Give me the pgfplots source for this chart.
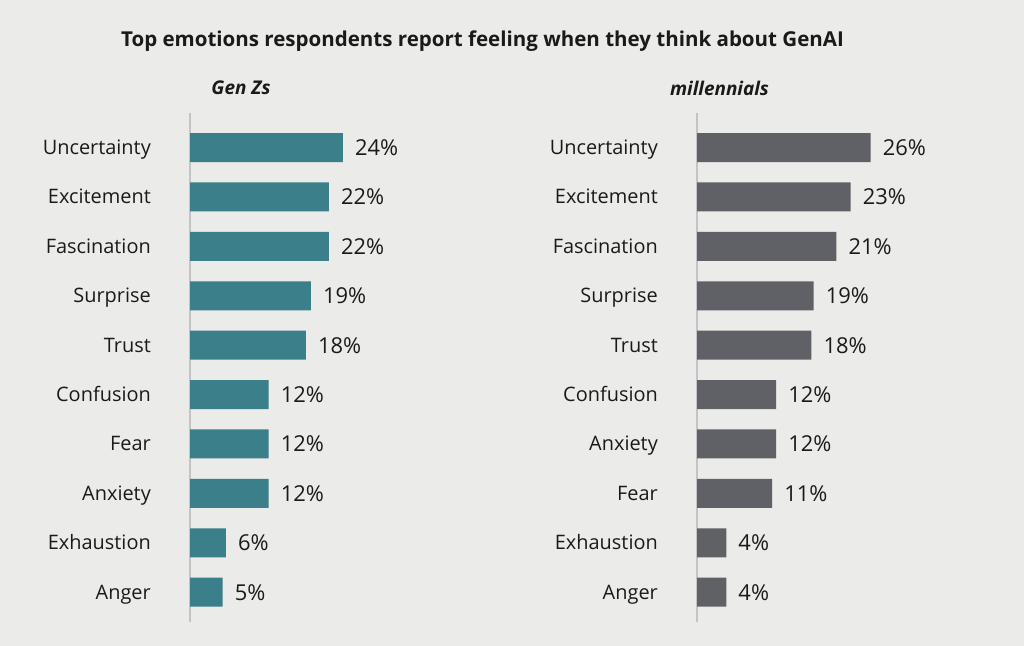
\documentclass[border=0pt]{standalone}
\usepackage{fontspec}
\setmainfont{Open Sans}
\usepackage{pgfplots}
\pgfplotsset{compat=1.18}
\definecolor{bg}{HTML}{EBEBE9}
\definecolor{teal1}{HTML}{3A7F8A}
\definecolor{gray1}{HTML}{5F6166}
\definecolor{axgray}{HTML}{C4C4C4}
\definecolor{txt}{HTML}{1A1A1A}
\pgfplotsset{
  panel/.style={
    y=49.4bp, y dir=reverse,
    xmin=0, xmax=30, ymin=-0.7, ymax=9.6,
    xbar, bar width=29bp, bar shift=0pt,
    axis x line=none, axis y line*=left,
    y axis line style={axgray, line width=2.5bp},
    ytick={0,...,9}, major tick length=0pt,
    yticklabel style={font=\fontsize{20}{24}\selectfont, text=txt, anchor=base east, inner sep=0pt, xshift=-39bp, yshift=-7bp},
    point meta=explicit,
    nodes near coords={\pgfmathprintnumber{\pgfplotspointmeta}\%},
    nodes near coords style={anchor=base west, inner sep=0pt, xshift=12bp, yshift=-8bp, font=\fontsize{22}{26}\selectfont, text=txt},
    /pgf/number format/assume math mode=true,
    clip=false,
  }
}
\begin{document}
\begin{tikzpicture}
\fill[bg] (0,0) rectangle (1024bp,646bp);
\useasboundingbox (0,0) rectangle (1024bp,646bp);
\node[font=\bfseries\fontsize{20.6}{24}\selectfont, text=txt] at (482.5bp,605bp) {Top emotions respondents report feeling when they think about GenAI};
\node[font=\bfseries\itshape\fontsize{19}{23}\selectfont, text=txt] at (241bp,558bp) {Gen Zs};
\node[font=\bfseries\itshape\fontsize{19}{23}\selectfont, text=txt] at (719.5bp,558bp) {millennials};
\begin{axis}[panel, x=6.4bp, at={(190bp,533bp)}, anchor=north west,
  yticklabels={Uncertainty,Excitement,Fascination,Surprise,Trust,Confusion,Fear,Anxiety,Exhaustion,Anger}]
\addplot[fill=teal1, draw=none] coordinates {(23.9,0) [24] (21.7,1) [22] (21.7,2) [22] (18.9,3) [19] (18.1,4) [18] (12.3,5) [12] (12.3,6) [12] (12.3,7) [12] (5.6,8) [6] (5.1,9) [5]};
\end{axis}
\begin{axis}[panel, x=6.65bp, at={(697bp,533bp)}, anchor=north west,
  yticklabels={Uncertainty,Excitement,Fascination,Surprise,Trust,Confusion,Anxiety,Fear,Exhaustion,Anger}]
\addplot[fill=gray1, draw=none] coordinates {(26.1,0) [26] (23.1,1) [23] (20.95,2) [21] (17.55,3) [19] (17.2,4) [18] (11.9,5) [12] (11.9,6) [12] (11.3,7) [11] (4.4,8) [4] (4.4,9) [4]};
\end{axis}
\end{tikzpicture}
\end{document}
